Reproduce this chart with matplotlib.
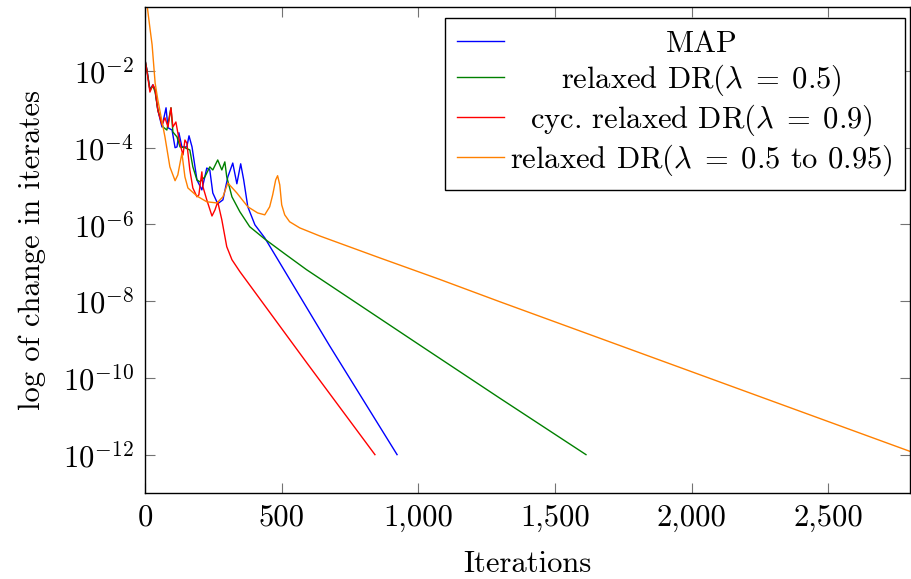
"""
Convergence plot: change in iterates vs iterations (pgfplots look)
"""

import numpy as np
import matplotlib
matplotlib.use('Agg')
import matplotlib.pyplot as plt
from matplotlib.ticker import FixedLocator, FuncFormatter, NullLocator
from matplotlib.transforms import IdentityTransform

# data: iteration, log10(change)
blue_it = [0, 7, 18, 29, 37, 47, 62, 77, 84, 99, 110, 117, 124, 135, 153, 161, 172, 190, 208, 226,
           237, 248, 266, 285, 303, 321, 336, 350, 361, 376, 402, 438, 482, 675, 922]
blue_exp = [-1.71, -1.97, -2.49, -2.36, -2.49, -3.02, -3.46, -2.96, -3.48, -3.54, -4.00, -3.98, -3.61,
            -3.98, -3.98, -3.69, -3.98, -4.84, -5.10, -4.53, -4.58, -5.18, -5.46, -5.36, -4.76, -4.40,
            -4.94, -4.42, -4.84, -5.54, -6.01, -6.35, -6.87, -9.16, -12.0]

green_it = [0, 7, 18, 29, 37, 47, 66, 80, 95, 102, 117, 128, 146, 164, 175, 190, 201, 219, 237, 248,
            266, 281, 292, 299, 318, 347, 383, 438, 512, 591, 1004, 1296, 1613]
green_exp = [-1.71, -1.97, -2.49, -2.39, -2.55, -3.02, -3.46, -3.54, -2.96, -3.59, -3.72, -3.98, -4.00,
             -4.06, -4.50, -4.84, -4.89, -4.76, -4.50, -4.58, -4.32, -4.58, -4.37, -4.76, -5.28, -5.67,
             -6.06, -6.38, -6.77, -7.18, -9.14, -10.52, -12.0]

red_it = [0, 7, 18, 29, 37, 47, 62, 73, 84, 95, 102, 113, 120, 131, 139, 146, 153, 164, 175, 190,
          197, 208, 212, 226, 245, 256, 266, 281, 299, 318, 347, 591, 841]
red_exp = [-1.71, -2.0, -2.55, -2.36, -2.49, -3.02, -3.41, -3.22, -3.46, -2.96, -3.46, -3.33, -3.61,
           -3.98, -4.19, -3.80, -3.88, -4.58, -5.05, -5.28, -5.23, -4.63, -5.02, -5.36, -5.78, -5.62,
           -5.41, -5.88, -6.58, -6.92, -7.23, -9.60, -12.0]

orange_it = [0, 7, 18, 26, 37, 47, 73, 91, 110, 120, 135, 146, 157, 190, 226, 263, 285, 303, 336, 376,
             412, 438, 456, 467, 478, 485, 493, 500, 511, 529, 566, 639, 858, 1077, 1296, 2800]
orange_exp = [0.0, -0.25, -0.88, -1.32, -2.31, -2.76, -3.72, -4.50, -4.86, -4.71, -4.14, -4.76, -5.05,
              -5.26, -5.41, -5.44, -5.28, -4.92, -5.18, -5.54, -5.70, -5.75, -5.54, -5.23, -4.84, -4.73,
              -4.97, -5.49, -5.75, -5.93, -6.09, -6.30, -6.87, -7.43, -8.01, -11.92]

labels = ['MAP', r'relaxed DR($\lambda\;=\;0.5$)', r'cyc. relaxed DR($\lambda\;=\;0.9$)',
          r'relaxed DR($\lambda\;=\;0.5$ to $0.95$)']
colors = ['#0000ff', '#008000', '#ff0000', '#ff8000']

x_ticks = [0, 500, 1000, 1500, 2000, 2500]
y_tick_exps = [-12, -10, -8, -6, -4, -2]

plt.rcParams['font.family'] = 'serif'
plt.rcParams['font.serif'] = ['cmr10']
plt.rcParams['mathtext.fontset'] = 'cm'
plt.rcParams['axes.unicode_minus'] = False
plt.rcParams['font.size'] = 22

FS = 22

fig = plt.figure(figsize=(9.12, 5.79), dpi=100)
ax = fig.add_axes([145 / 912, 1 - 493 / 579, (910.5 - 145) / 912, (493 - 7) / 579])

series = [(blue_it, blue_exp), (green_it, green_exp), (red_it, red_exp), (orange_it, orange_exp)]
for (it, ex), c, lab in zip(series, colors, labels):
    ax.plot(it, 10.0 ** np.array(ex), color=c, lw=1.0, label=lab)

ax.set_yscale('log')
ax.set_xlim(0, 2800)
ax.set_ylim(1e-13, 10 ** -0.333)

ax.xaxis.set_major_locator(FixedLocator(x_ticks))
ax.xaxis.set_major_formatter(FuncFormatter(lambda v, p: f'{int(v):,}'))
ax.yaxis.set_major_locator(FixedLocator([10.0 ** e for e in y_tick_exps]))
ax.yaxis.set_major_formatter(FuncFormatter(lambda v, p: r'$10^{%d}$' % round(np.log10(v))))
ax.yaxis.set_minor_locator(NullLocator())
ax.xaxis.set_minor_locator(NullLocator())

ax.tick_params(which='both', direction='in', top=True, right=True, length=7, width=0.8,
               color='0.45', labelsize=FS, pad=8)
for s in ax.spines.values():
    s.set_linewidth(1.0)

ax.set_xlabel('Iterations', fontsize=FS, labelpad=14)
ax.set_ylabel('log of change in iterates', fontsize=FS, labelpad=12)

leg = ax.legend(loc='upper right', bbox_to_anchor=(905 / 912, 1 - 18 / 579),
                bbox_transform=fig.transFigure, borderaxespad=0, fancybox=False, framealpha=1,
                edgecolor='black', handlelength=1.55, handletextpad=0.2, borderpad=0.4,
                labelspacing=0.15, fontsize=FS)
leg.get_frame().set_linewidth(1.0)

# pgfplots centres the legend text; redraw the labels centred
fig.canvas.draw()
r = fig.canvas.get_renderer()
texts = leg.get_texts()
boxes = [t.get_window_extent(r) for t in texts]
x0 = min(b.x0 for b in boxes)
x1 = max(b.x1 for b in boxes)
for t, b in zip(texts, boxes):
    fig.text((x0 + x1) / 2, b.y0, t.get_text(), transform=IdentityTransform(),
             ha='center', va='bottom', fontsize=FS)
    t.set_visible(False)

plt.savefig('out.png', dpi=100)
plt.close()
